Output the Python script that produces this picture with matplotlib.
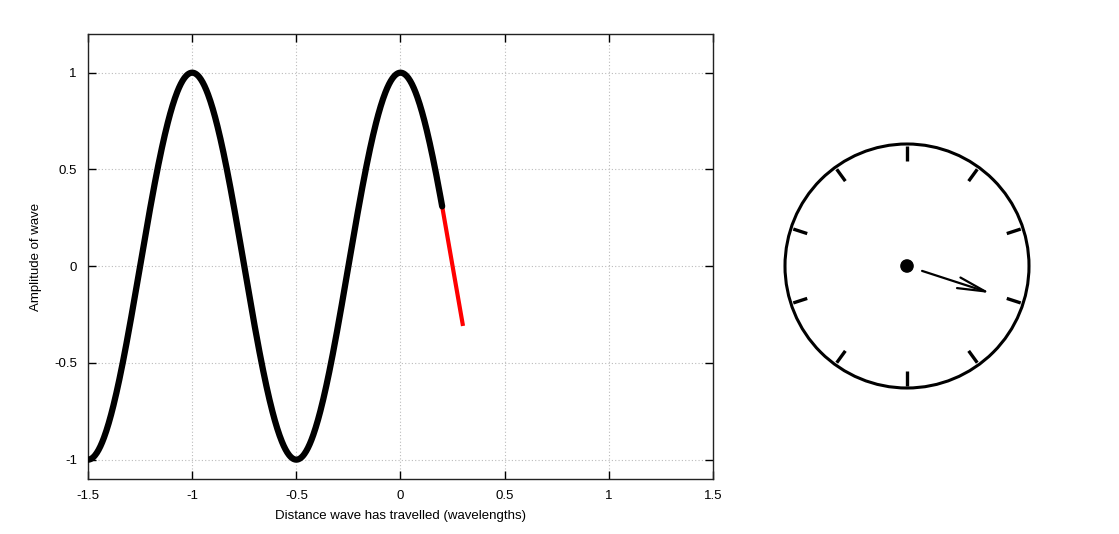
import numpy as np
import matplotlib
matplotlib.use("Agg")
import matplotlib.pyplot as plt
from matplotlib.patches import Circle, FancyArrowPatch

plt.rcParams['font.family'] = ['Liberation Sans', 'DejaVu Sans']

# ---- data ----
wavelength = 1.0
amplitude = 1.0
wave_x_start = -1.5
wave_x_end = 0.2
red_x = [0.2, 0.3]
red_y = [0.309, -0.309]
x_ticks = [-1.5, -1.0, -0.5, 0.0, 0.5, 1.0, 1.5]
x_tick_labels = ["-1.5", "-1", "-0.5", "0", "0.5", "1", "1.5"]
y_ticks = [-1.0, -0.5, 0.0, 0.5, 1.0]
y_tick_labels = ["-1", "-0.5", "0", "0.5", "1"]
clock_ticks = 10
hand_turn = 0.3      # fraction of a revolution, clockwise from 12 o'clock
hand_start = 0.13
hand_length = 0.72

W, H = 1119, 534
fig = plt.figure(figsize=(W / 100, H / 100), dpi=100)

# ---- wave axes ----
ax = fig.add_axes([88 / W, (H - 479) / H, (713 - 88) / W, (479 - 34) / H])
xs = np.linspace(wave_x_start, wave_x_end, 600)
ys = amplitude * np.cos(2 * np.pi * xs / wavelength)
ax.plot(red_x, red_y, color='#ff0000', lw=3.0, solid_capstyle='butt', zorder=3)
ax.plot(xs, ys, color='black', lw=4.5, solid_capstyle='round', zorder=4)
ax.set_xlim(-1.5, 1.5)
ax.set_ylim(-1.1, 1.2)
ax.set_xticks(x_ticks)
ax.set_xticklabels(x_tick_labels)
ax.set_yticks(y_ticks)
ax.set_yticklabels(y_tick_labels)
ax.tick_params(direction='in', length=6, width=1, top=True, right=True,
               labelsize=9.5, pad=8, colors='black')
ax.grid(True, color='#bbbbbb', linestyle=(0, (1, 2)), linewidth=0.8)
for s in ax.spines.values():
    s.set_linewidth(1.0)
    s.set_color('#222222')
ax.set_xlabel("Distance wave has travelled (wavelengths)", fontsize=9.5, labelpad=6)
ax.set_ylabel("Amplitude of wave", fontsize=9.5, labelpad=9)

# ---- clock axes ----
size = 254
cx, cy = 907, H - 266
cax = fig.add_axes([(cx - size / 2) / W, (cy - size / 2) / H, size / W, size / H])
lim = size / 2 / 122.0
cax.set_xlim(-lim, lim)
cax.set_ylim(-lim, lim)
cax.set_aspect('equal')
cax.axis('off')
cax.add_patch(Circle((0, 0), 1.0, fill=False, lw=2.2, color='black'))
for k in range(clock_ticks):
    a = 2 * np.pi * k / clock_ticks
    sx, sy = np.sin(a), np.cos(a)
    cax.plot([0.98 * sx, 0.86 * sx], [0.98 * sy, 0.86 * sy], color='black', lw=2.4,
             solid_capstyle='butt')
cax.add_patch(Circle((0, 0), 0.05, color='black'))
ha = 2 * np.pi * hand_turn
hx, hy = np.sin(ha), np.cos(ha)
arrow = FancyArrowPatch((hand_start * hx, hand_start * hy), (hand_length * hx, hand_length * hy),
                        arrowstyle='->,head_length=2.0,head_width=0.4', lw=1.6, color='black',
                        shrinkA=0, shrinkB=0, mutation_scale=10)
cax.add_patch(arrow)

fig.savefig("out.png", dpi=100)
